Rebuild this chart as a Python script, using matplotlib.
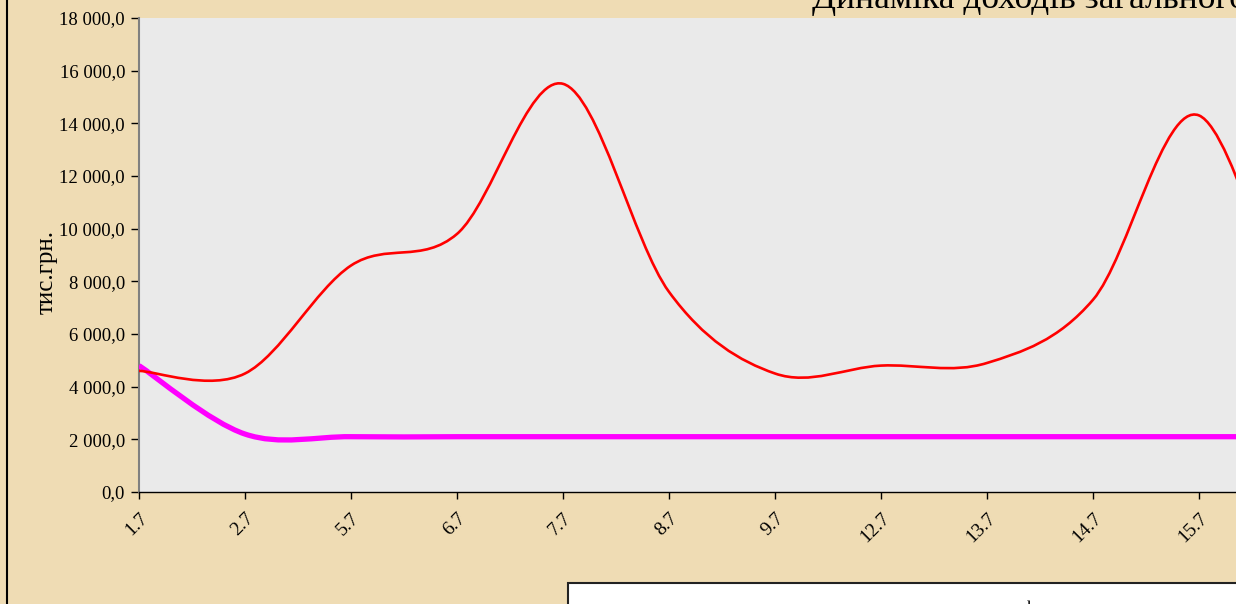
import matplotlib
matplotlib.use("Agg")
import matplotlib.pyplot as plt
from matplotlib.path import Path
from matplotlib.patches import PathPatch, Rectangle
from matplotlib.lines import Line2D
from matplotlib.ticker import FuncFormatter, MultipleLocator

# ---- data ----
categories = ["1.7", "2.7", "5.7", "6.7", "7.7", "8.7", "9.7", "12.7", "13.7", "14.7", "15.7", "16.7"]
red_values = [4600, 4500, 8600, 9800, 15500, 7600, 4500, 4800, 4900, 7300, 14300, 4000]
magenta_values = [4800, 2200, 2100, 2100, 2100, 2100, 2100, 2100, 2100, 2100, 2100, 2100]
red_label = "Доходи загального фонду"
magenta_label = "Середній рівень"
title_text = "Динаміка доходів загального фонду"
y_label = "тис.грн."

W, H = 1236, 604
plt.rcParams['font.family'] = ['Liberation Serif', 'DejaVu Serif']

fig = plt.figure(figsize=(W / 100, H / 100), dpi=100)
fig.patch.set_facecolor("#EFDCB4")

def px(x0, y0, x1, y1):
    return [x0 / W, 1 - y1 / H, (x1 - x0) / W, (y1 - y0) / H]

n = len(categories)
right_px = 139 + (n - 1) * 106
ax = fig.add_axes(px(139, 18, right_px, 492))
ax.set_facecolor("#EAEAEA")


def smooth_path(ys):
    xs = list(range(len(ys)))
    pts = list(zip(xs, ys))
    verts = [pts[0]]
    codes = [Path.MOVETO]
    m = len(pts)
    for i in range(m - 1):
        p0 = pts[max(i - 1, 0)]
        p1 = pts[i]
        p2 = pts[i + 1]
        p3 = pts[min(i + 2, m - 1)]
        c1 = (p1[0] + (p2[0] - p0[0]) / 6, p1[1] + (p2[1] - p0[1]) / 6)
        c2 = (p2[0] - (p3[0] - p1[0]) / 6, p2[1] - (p3[1] - p1[1]) / 6)
        verts += [c1, c2, p2]
        codes += [Path.CURVE4] * 3
    return Path(verts, codes)


ax.add_patch(PathPatch(smooth_path(magenta_values), fill=False, edgecolor="#FF00FF",
                       linewidth=3.8, capstyle="butt", zorder=3))
ax.add_patch(PathPatch(smooth_path(red_values), fill=False, edgecolor="#FF0000",
                       linewidth=1.9, zorder=4))

ax.set_xlim(0, n - 1)
ax.set_ylim(0, 18000)
ax.yaxis.set_major_locator(MultipleLocator(2000))


def yfmt(v, pos):
    s = f"{v:,.1f}".replace(",", " ").replace(".", ",")
    return s


ax.yaxis.set_major_formatter(FuncFormatter(yfmt))
ax.set_xticks(range(n))
ax.set_xticklabels(categories, rotation=45, ha="right", va="top", rotation_mode="anchor")
for lab in ax.get_xticklabels():
    lab.set_fontsize(14)
for lab in ax.get_yticklabels():
    lab.set_fontsize(13.5)
ax.tick_params(axis="y", direction="out", length=6, width=1, color="#000000", pad=4)
ax.tick_params(axis="x", direction="out", length=5, width=1, color="#000000", pad=8)
for s in ("top", "right"):
    ax.spines[s].set_visible(False)
ax.spines["left"].set_color("#808080")
ax.spines["left"].set_linewidth(1.5)
ax.spines["bottom"].set_color("#000000")
ax.spines["bottom"].set_linewidth(1.0)

fig.text(47 / W, 1 - 272 / H, y_label, rotation=90, ha="center", va="center", fontsize=18)
fig.text(812 / W, 1 - 8 / H, title_text, ha="left", va="baseline", fontsize=25.5)

# left border of chart area
fig.add_artist(Line2D([7 / W, 7 / W], [0, 1], color="#000000", linewidth=1.5))

# legend box (mostly outside the visible area)
fig.add_artist(Rectangle((568 / W, -0.2), 1.0, (1 - 583 / H) + 0.2, facecolor="white",
                         edgecolor="#222222", linewidth=1.5))
fig.text(866 / W, 1 - 601 / H, red_label.lower(), ha="left", va="top", fontsize=14)

fig.savefig("out.png", dpi=100, facecolor=fig.get_facecolor())
